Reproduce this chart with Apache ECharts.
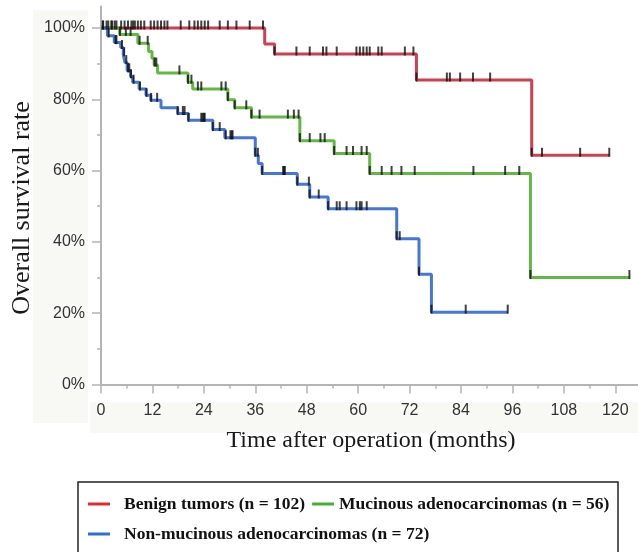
<!DOCTYPE html>
<html>
<head>
<meta charset="utf-8">
<script src="https://cdn.jsdelivr.net/npm/echarts@6/dist/echarts.min.js"></script>
<style>html,body{margin:0;padding:0;background:#fff}#c{width:638px;height:552px}</style>
</head>
<body>
<div id="c"></div>
<script>
// ---- data (months, survival %) ----
const seriesNames = ['Benign tumors (n = 102)', 'Mucinous adenocarcinomas (n = 56)', 'Non-mucinous adenocarcinomas (n = 72)'];

const benignTimes = [0, 38.2, 40.5, 73.6, 100.5, 118.6];
const benignSurv  = [100, 95.5, 92.7, 85.4, 64.3, 64.3];
const benignCensor = [0.4, 0.5, 1.3, 1.7, 2.4, 3.2, 3.6, 4.7, 5.5, 6.3, 7.1, 7.5, 7.9, 8.6, 9.3, 10.1, 11.6, 12.4, 13.2, 14.0, 14.8, 15.5, 18.6, 20.6, 21.8, 22.6, 23.4, 24.2, 25.0, 27.7, 29.6, 31.6, 34.7, 37.8, 40.5, 45.6, 48.7, 51.8, 52.6, 55.0, 59.6, 60.4, 61.2, 62.0, 62.7, 64.7, 65.5, 70.9, 72.9, 73.6, 80.7, 81.4, 83.8, 86.8, 90.8, 100.5, 102.9, 111.8, 118.6];

const mucTimes = [0, 4.4, 8.6, 11.1, 11.9, 12.4, 13.2, 20.3, 21.4, 29.6, 31.2, 35.1, 46.4, 54.4, 62.7, 100.2, 123.3];
const mucSurv  = [100, 98.2, 95.7, 93.4, 91.5, 89.6, 87.4, 84.8, 82.9, 79.9, 77.6, 75.0, 68.4, 64.8, 59.2, 30.0, 30.0];
const mucCensor = [2.6, 4.4, 5.8, 6.9, 9.0, 10.9, 12.5, 12.9, 18.3, 20.3, 21.1, 22.6, 23.4, 28.1, 29.1, 29.6, 31.2, 33.9, 35.1, 37.0, 43.6, 45.0, 46.1, 46.4, 48.7, 51.2, 52.2, 54.4, 57.3, 58.8, 60.8, 62.0, 62.7, 65.5, 67.8, 70.1, 73.2, 86.9, 94.3, 97.6, 100.2, 123.3];

const nonTimes = [0, 1.5, 3.1, 4.6, 5.2, 5.6, 6.1, 6.9, 7.4, 8.9, 10.5, 11.6, 14.0, 17.9, 20.4, 26.1, 28.9, 36.0, 36.7, 37.6, 45.8, 48.7, 53.0, 69.0, 74.2, 77.1, 94.9];
const nonSurv  = [100, 97.8, 95.9, 94.5, 92.5, 90.3, 88.0, 86.3, 84.8, 82.9, 81.1, 79.7, 77.6, 76.0, 74.1, 71.5, 69.2, 64.3, 62.0, 59.2, 56.2, 52.6, 49.3, 40.9, 30.9, 20.3, 20.3];
const nonCensor = [1.8, 3.4, 3.6, 4.9, 5.4, 5.9, 6.3, 6.6, 7.0, 7.6, 9.1, 10.6, 11.7, 13.1, 17.9, 19.1, 19.5, 20.4, 23.4, 23.7, 24.0, 24.2, 26.1, 27.7, 29.1, 30.2, 30.5, 30.7, 36.0, 36.6, 37.6, 42.5, 42.7, 42.9, 45.8, 48.5, 48.7, 50.8, 53.0, 55.0, 55.7, 57.3, 59.6, 60.4, 60.8, 62.0, 69.0, 69.7, 74.2, 77.1, 85.1, 94.9];

const xLabelTicks = [0, 12, 24, 36, 48, 60, 72, 84, 96, 108, 120];
const xMinorTicks = [6, 18, 30, 42, 54, 66, 78, 90, 102, 114];
const yLabelTicks = [0, 20, 40, 60, 80, 100];
const yMinorTicks = [10, 30, 50, 70, 90];

// ---- helpers ----
function zip(ts, vs) { return ts.map((t, i) => [t, vs[i]]); }
function survAt(ts, vs, t) {
  let v = vs[0];
  for (let i = 0; i < ts.length; i++) { if (ts[i] <= t + 1e-9) v = vs[i]; }
  return v;
}
function censorPts(cs, ts, vs) { return cs.map(t => [t, survAt(ts, vs, t)]); }

const colors = ['#cc4052', '#62b843', '#4676d8'];
const legendColors = ['#e0282f', '#46ad3c', '#2f6fd2'];

const chart = echarts.init(document.getElementById('c'), null, {renderer: 'canvas'});

function lineSeries(name, ts, vs, color) {
  return {
    name: name, type: 'line', step: 'end', data: zip(ts, vs),
    showSymbol: false, symbol: 'none', lineStyle: {color: color, width: 3},
    itemStyle: {color: color}, z: 2, animation: false
  };
}
function tickSeries(cs, ts, vs) {
  return {
    type: 'scatter', data: censorPts(cs, ts, vs), symbol: 'rect',
    symbolSize: [2, 9], symbolOffset: [0, -3],
    itemStyle: {color: '#111'}, z: 3, animation: false, silent: true
  };
}

const axisGray = '#b4b4b4';
const legendFont = {fontFamily: 'Liberation Serif', fontWeight: 'bold', fontSize: 17.5, color: '#111'};

chart.setOption({
  animation: false,
  backgroundColor: '#fff',
  grid: {left: 101, right: 0, top: 6.6, bottom: 167.5, containLabel: false},
  graphic: [
    {type: 'rect', z: -10, shape: {x: 33, y: 10, width: 55, height: 413}, style: {fill: '#f8f8f5'}},
    {type: 'rect', z: -10, shape: {x: 90, y: 402, width: 548, height: 31}, style: {fill: '#f8f8f5'}},
    {type: 'text', x: 371, y: 441, style: {text: 'Time after operation (months)', font: '24px "Liberation Serif"', fill: '#1a1a1a', textAlign: 'center', textVerticalAlign: 'middle'}},
    {type: 'text', x: 22, y: 208, rotation: Math.PI / 2, style: {text: 'Overall survival rate', font: '26px "Liberation Serif"', fill: '#1a1a1a', textAlign: 'center', textVerticalAlign: 'middle'}},
    {type: 'rect', shape: {x: 78, y: 482, width: 540, height: 80}, style: {fill: 'none', stroke: '#222', lineWidth: 1.5}}
  ],
  legend: [
    {
      data: [
        {name: seriesNames[0], itemStyle: {color: legendColors[0]}, textStyle: Object.assign({}, legendFont, {padding: [0, 0, 0, 9]})},
        {name: seriesNames[1], itemStyle: {color: legendColors[1]}, textStyle: legendFont}
      ],
      left: 88, top: 495, padding: 0, itemGap: 7, icon: 'rect', itemWidth: 22, itemHeight: 3,
      textStyle: legendFont, selectedMode: false
    },
    {
      data: [{name: seriesNames[2], itemStyle: {color: legendColors[2]}, textStyle: Object.assign({}, legendFont, {padding: [0, 0, 0, 9]})}],
      left: 88, top: 525, padding: 0, icon: 'rect', itemWidth: 22, itemHeight: 3,
      textStyle: legendFont, selectedMode: false
    }
  ],
  xAxis: [
    {
      type: 'value', min: 0, max: 125.3, position: 'bottom',
      axisLine: {show: true, lineStyle: {color: axisGray, width: 2}},
      axisTick: {show: true, inside: false, length: 9, customValues: xLabelTicks, lineStyle: {color: axisGray, width: 1.5}},
      axisLabel: {show: true, customValues: xLabelTicks, margin: 18, fontFamily: 'Liberation Sans', fontSize: 16, color: '#333'},
      splitLine: {show: false}
    },
    {
      type: 'value', min: 0, max: 125.3, position: 'bottom',
      axisLine: {show: false},
      axisTick: {show: true, inside: false, length: 4, customValues: xMinorTicks, lineStyle: {color: axisGray, width: 1.5}},
      axisLabel: {show: false},
      splitLine: {show: false}
    }
  ],
  yAxis: [
    {
      type: 'value', min: 0, max: 106, position: 'left',
      axisLine: {show: true, lineStyle: {color: axisGray, width: 2}},
      axisTick: {show: true, inside: false, length: 9, customValues: yLabelTicks, lineStyle: {color: axisGray, width: 1.5}},
      axisLabel: {show: true, customValues: yLabelTicks, formatter: '{value}%', margin: 16, fontFamily: 'Liberation Sans', fontSize: 16, color: '#333'},
      splitLine: {show: false}
    },
    {
      type: 'value', min: 0, max: 106, position: 'left',
      axisLine: {show: false},
      axisTick: {show: true, inside: false, length: 4, customValues: yMinorTicks, lineStyle: {color: axisGray, width: 1.5}},
      axisLabel: {show: false},
      splitLine: {show: false}
    }
  ],
  series: [
    lineSeries(seriesNames[0], benignTimes, benignSurv, colors[0]),
    lineSeries(seriesNames[1], mucTimes, mucSurv, colors[1]),
    lineSeries(seriesNames[2], nonTimes, nonSurv, colors[2]),
    tickSeries(benignCensor, benignTimes, benignSurv),
    tickSeries(mucCensor, mucTimes, mucSurv),
    tickSeries(nonCensor, nonTimes, nonSurv)
  ]
});
</script>
</body>
</html>
